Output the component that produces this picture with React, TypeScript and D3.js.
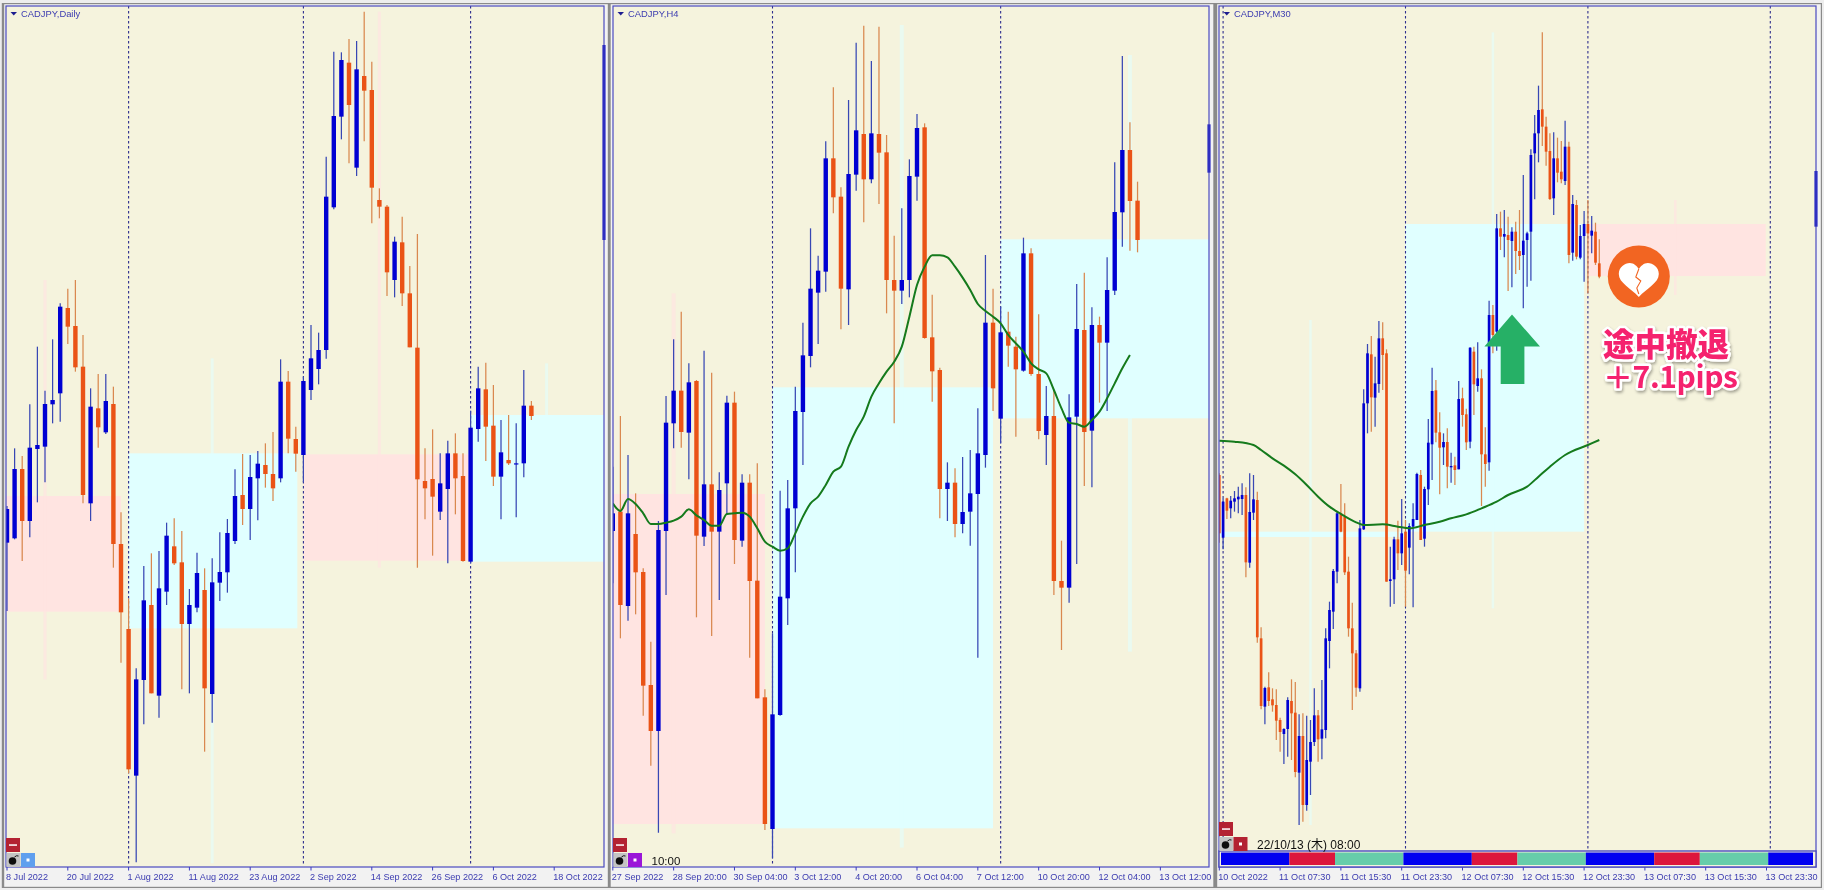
import React from 'react';
import * as d3 from 'd3';

// All prices are in points above a common base price (no price axis is shown in the picture).
const dailyLabels = ['8 Jul 2022','20 Jul 2022','1 Aug 2022','11 Aug 2022','23 Aug 2022','2 Sep 2022','14 Sep 2022','26 Sep 2022','6 Oct 2022','18 Oct 2022'];
const dailyOpen = [1372,1385,1593,1437,1653,1660,1787,1820,2076,2022,1900,1490,1775,1703,1788,1368,1113,673,960,1185,913,1225,1361,1313,1128,1177,1230,918,1252,1283,1377,1515,1473,1565,1605,1578,1565,1855,1683,1635,1830,1893,1950,2378,2650,2812,2497,2772,2730,2400,2380,2160,2273,2120,1957,1557,1563,1465,1533,1640,1572,1315,1713,1832,1723,1570,1620,1607,1610,1783];
const dailyClose = [1473,1593,1437,1657,1665,1788,1800,2080,2020,1898,1515,1780,1718,1797,1368,1163,692,962,1199,920,1235,1393,1310,1128,1185,1281,935,1253,1284,1401,1512,1473,1569,1609,1578,1535,1855,1684,1639,1857,1925,1950,2410,2652,2820,2685,2792,2728,2437,2380,2183,2275,2120,1958,1562,1535,1510,1550,1640,1565,1317,1717,1835,1720,1570,1643,1610,1610,1783,1752];
const dailyHigh = [1482,1655,1632,1787,1960,1828,1982,2090,2134,2160,1995,1835,1878,1878,1840,1463,1205,995,1302,1340,1347,1432,1445,1407,1233,1342,1295,1325,1403,1443,1592,1638,1635,1647,1670,1704,1922,1887,1720,1870,2025,2002,2530,2845,2843,2883,2877,2965,2815,2435,2385,2290,2350,2202,2298,1655,1712,1640,1678,1700,1640,1768,1900,1912,1845,1740,1755,1730,1890,1797];
const dailyLow = [1167,1382,1317,1388,1493,1553,1730,1735,1968,1885,1490,1437,1657,1698,1297,1012,680,413,827,920,847,1185,1305,932,920,1163,745,832,1197,1222,1368,1425,1380,1439,1537,1497,1553,1640,1585,1553,1800,1847,1924,2372,2582,2510,2472,2576,2330,2345,2112,2108,2082,1958,1297,1442,1333,1440,1310,1457,1315,1310,1675,1617,1542,1442,1605,1448,1568,1740];

const h4Labels = ['27 Sep 2022','28 Sep 20:00','30 Sep 04:00','3 Oct 12:00','4 Oct 20:00','6 Oct 04:00','7 Oct 12:00','10 Oct 20:00','12 Oct 04:00','13 Oct 12:00'];
const h4Open = [1407,1465,1182,1398,1284,945,807,1407,1730,1828,1702,1857,1390,1547,1405,1550,1792,1378,1552,1258,908,513,855,1205,1475,1764,1932,2122,2185,2525,2410,2132,2476,2598,2462,2598,2543,2160,2128,2160,2470,2618,1988,1890,1533,1552,1428,1465,1518,1635,2032,1744,2005,1960,1888,2240,1878,1695,1752,1257,1237,1750,2010,1708,2025,1972,2128,2363,2550,2398];
const h4Close = [1460,1185,1460,1283,943,807,1410,1732,1828,1704,1853,1393,1547,1405,1530,1792,1380,1552,1257,905,528,857,1210,1475,1767,1934,2134,2188,2525,2408,2134,2478,2609,2462,2600,2542,2160,2128,2160,2472,2616,1986,1886,1533,1552,1428,1464,1520,1640,2032,1835,2003,1963,1892,2240,1878,1707,1752,1257,1237,1748,2013,1704,2025,1972,2130,2364,2550,2397,2280];
const h4High = [1600,1752,1635,1520,1295,1075,1437,1812,1982,2065,1910,1860,1948,1882,1583,1813,1825,1577,1577,1610,932,1100,1528,1560,1840,2032,2315,2233,2576,2738,2438,2700,2872,2923,2817,2920,2595,2293,2375,2522,2658,2630,2116,1897,1613,1595,1629,1650,1775,2235,2134,2080,2065,1990,2287,2255,2057,1842,1830,1378,1817,2148,2182,2078,2050,2228,2513,2832,2633,2455];
const h4Low = [1250,1085,1138,1157,853,703,502,1215,1655,1657,1562,1148,1362,1092,1200,1458,1308,1360,1027,905,510,425,853,1125,1283,1605,1898,1968,2125,2360,2012,2025,2428,2333,2450,2388,2060,1730,2088,2108,2398,1984,1795,1445,1437,1388,1400,1363,1027,1597,1767,1670,1900,1690,1885,1873,1682,1605,1215,1050,1192,1308,1542,1538,1792,1767,2115,2260,2248,2243];
const h4MaValue = [1490,1467,1503,1488,1460,1428,1428,1432,1438,1450,1472,1454,1440,1423,1423,1458,1460,1462,1450,1415,1375,1360,1348,1355,1400,1450,1490,1510,1545,1585,1600,1660,1710,1750,1810,1850,1885,1915,1960,2050,2145,2200,2234,2234,2228,2200,2167,2130,2088,2067,2050,2030,1995,1970,1945,1910,1892,1880,1830,1775,1732,1728,1720,1740,1765,1805,1850,1895,1935];

const m30Labels = ['10 Oct 2022','11 Oct 07:30','11 Oct 15:30','11 Oct 23:30','12 Oct 07:30','12 Oct 15:30','12 Oct 23:30','13 Oct 07:30','13 Oct 15:30','13 Oct 23:30'];
const m30Open = [1575,1387,1505,1475,1495,1502,1503,1515,1312,1462,1500,1085,880,938,902,885,840,798,813,897,862,682,792,585,715,774,854,784,810,1077,1165,1285,1460,1450,1285,1115,1040,935,1412,1790,1937,1807,1848,1985,1940,1257,1262,1382,1340,1405,1357,1420,1440,1575,1384,1532,1667,1829,1703,1658,1674,1598,1604,1592,1805,1757,1675,1945,1842,1865,1637,1613,2055,2005,2315,2290,2295,2277,2305,2247,2235,2280,2305,2540,2600,2672,2620,2547,2405,2525,2485,2457,2560,2242,2385,2227,2292,2328,2293,2305,2210];
const m30Close = [1400,1495,1468,1498,1505,1510,1515,1313,1464,1502,1088,882,936,897,884,838,804,813,900,860,684,792,585,720,774,854,782,812,1085,1170,1287,1460,1405,1283,1115,1040,937,1415,1790,1940,1808,1850,1985,1935,1255,1262,1382,1340,1400,1288,1422,1443,1578,1380,1533,1672,1827,1702,1657,1674,1600,1602,1590,1803,1755,1673,1957,1847,1865,1637,1608,2055,1995,2315,2290,2298,2280,2305,2247,2232,2278,2300,2535,2600,2670,2620,2545,2403,2525,2482,2462,2560,2235,2388,2230,2292,2328,2300,2308,2212,2170];
const m30High = [1580,1505,1507,1512,1527,1540,1550,1538,1580,1575,1525,1118,940,983,935,932,847,815,908,962,954,857,860,853,840,935,870,960,1115,1195,1293,1465,1548,1490,1330,1192,1050,1440,1832,1968,1992,1930,2037,2033,1952,1360,1390,1438,1503,1440,1430,1490,1582,1590,1540,1743,1897,1860,1763,1700,1715,1642,1630,1857,1837,1774,1958,1960,1973,1892,1718,2098,2085,2358,2365,2370,2350,2318,2335,2370,2475,2305,2552,2655,2743,2903,2650,2600,2603,2587,2577,2638,2575,2415,2400,2325,2367,2400,2352,2332,2282];
const m30Low = [1372,1352,1443,1445,1465,1460,1455,1268,1297,1440,1072,872,827,882,865,780,745,708,730,720,668,525,535,568,615,762,715,722,785,995,1113,1250,1403,1275,1090,870,910,925,1410,1700,1705,1720,1822,1830,1255,1180,1188,1290,1305,1180,1277,1178,1440,1380,1360,1485,1560,1673,1517,1605,1535,1552,1545,1592,1720,1650,1655,1755,1825,1482,1540,1588,1940,1948,2250,2228,2127,2138,2178,2190,2075,2140,2158,2402,2513,2562,2503,2400,2355,2453,2450,2445,2210,2218,2222,2222,2155,2120,2240,2205,2165];
const m30MaBar = [0,4,9,11,14,17,20,23,26,29,32,36,38,43,47,50,54,58,61,65,69,73,76,81,84,87,91,97,100];
const m30MaValue = [1678,1675,1665,1650,1625,1603,1577,1545,1510,1480,1458,1433,1425,1427,1420,1415,1425,1435,1445,1457,1475,1495,1515,1540,1570,1600,1635,1665,1680];

const sessionBars = [18, 12, 18];
const sessionColors = ['#0000f0', '#dc143c', '#66cdaa'];

// zones: [first bar, last bar, upper price, lower price]
const dailyPink = [[-2,15,1512,1165],[39,61,1637,1318]];
const dailyCyan = [[16,38.2,1640,1115],[61,80,1755,1315]];
const h4Pink = [[-2,20,1518,528]];
const h4Cyan = [[21,50,1838,515],[51,80,2282,1745]];
const m30Pink = [[97,143.8,2328,2172]];
const m30Cyan = [[49,96,2328,1405],[-2,49,1405,1389]];
// day-range slivers: [bar, upper price, lower price]
const dailyPaleCyan = [[27,1925,410],[71,1910,1755]];
const dailyPalePink = [[5,2160,962],[49,2965,1297]];
const h4PaleCyan = [[38,2925,457],[68,2835,1045]];
const h4PalePink = [[8,2120,500]];
const m30PaleCyan = [[24,2040,525],[72,2903,1175]];
const m30PalePink = [[120,2400,2115]];

const BG = '#f5f3dd', PINK = '#ffe4e1', CYAN = '#e0ffff';
const UP = '#0303d2', DOWN = '#ea5216', UPW = '#3747b4', DOWNW = '#d9884f', INK = '#3b3bb0', GREEN = '#137a1c';
const FONT = '"Liberation Sans", Arial, sans-serif';

const yScale = d3.scaleLinear().domain([0, 3000]).range([1000, 0]);

type Cfg = {
  title: string; left: number; right: number; x0: number; step: number; bottom: number;
  open: number[]; close: number[]; high: number[]; low: number[];
  pink: number[][]; cyan: number[][]; palePink: number[][]; paleCyan: number[][]; paleW: number;
  vbars: number[]; tickEvery: number; labels: string[]; bodyW: number;
  ma?: [number, number][]; mark: [number, number];
};

function Panel({ c, id }: { c: Cfg; id: string }) {
  const x = d3.scaleLinear().domain([0, 1]).range([c.x0, c.x0 + c.step]);
  const AXIS = 867;
  const line = d3.line<[number, number]>().x(d => x(d[0])).y(d => yScale(d[1])).curve(d3.curveMonotoneX);
  return (
    <g>
      <clipPath id={id}><rect x={c.left} y={6} width={c.right - c.left} height={AXIS - 6} /></clipPath>
      <rect x={c.left} y={6} width={c.right - c.left} height={AXIS - 6} fill={BG} />
      <g clipPath={`url(#${id})`}>
        {c.pink.map((z, i) => <rect key={i} x={x(z[0])} width={x(z[1]) - x(z[0])} y={yScale(z[2])} height={yScale(z[3]) - yScale(z[2])} fill={PINK} />)}
        {c.cyan.map((z, i) => <rect key={i} x={x(z[0])} width={x(z[1]) - x(z[0])} y={yScale(z[2])} height={yScale(z[3]) - yScale(z[2])} fill={CYAN} />)}
        {c.paleCyan.map((z, i) => <rect key={i} x={x(z[0]) - c.paleW / 2} width={c.paleW} y={yScale(z[1])} height={yScale(z[2]) - yScale(z[1])} fill={CYAN} opacity={0.55} />)}
        {c.palePink.map((z, i) => <rect key={i} x={x(z[0]) - c.paleW / 2} width={c.paleW} y={yScale(z[1])} height={yScale(z[2]) - yScale(z[1])} fill={PINK} opacity={0.7} />)}
        {c.vbars.map(b => <line key={b} x1={x(b)} x2={x(b)} y1={6} y2={c.bottom} stroke="#2d2d8e" strokeWidth={1.1} strokeDasharray="2.5 2.5" />)}
        {c.open.map((o, i) => {
          const up = c.close[i] >= o;
          const top = yScale(Math.max(o, c.close[i]));
          const bot = yScale(Math.min(o, c.close[i]));
          return (
            <g key={i}>
              <line x1={x(i)} x2={x(i)} y1={yScale(c.high[i])} y2={yScale(c.low[i])} stroke={up ? UPW : DOWNW} strokeWidth={1.25} />
              <rect x={x(i) - c.bodyW / 2} width={c.bodyW} y={top} height={Math.max(bot - top, 1.2)} fill={up ? UP : DOWN} />
            </g>
          );
        })}
        {c.ma && <path d={line(c.ma) || ''} fill="none" stroke={GREEN} strokeWidth={2} />}
      </g>
      <rect x={c.right - 1.5} y={yScale(c.mark[0])} width={3} height={yScale(c.mark[1]) - yScale(c.mark[0])} fill="#0505c0" />
      <rect x={c.left} y={6} width={c.right - c.left} height={AXIS - 6} fill="none" stroke="#4a4ac0" strokeWidth={1.2} />
      {c.labels.map((t, i) => {
        const px = x(i * c.tickEvery);
        return (
          <g key={t}>
            <line x1={px} x2={px} y1={AXIS} y2={AXIS + 3.5} stroke="#3a3ac0" strokeWidth={1} />
            <text x={px - 1} y={AXIS + 12.5} fontSize={9.1} fontFamily={FONT} fill={INK}>{t}</text>
          </g>
        );
      })}
      <path d={`M${c.left + 4.5},12 h6.5 l-3.25,3.5 z`} fill="#1f1f90" />
      <text x={c.left + 15} y={17} fontSize={9.4} fontFamily={FONT} fill={INK}>{c.title}</text>
    </g>
  );
}

function Bomb({ x, y }: { x: number; y: number }) {
  return (
    <g>
      <rect x={x} y={y} width={14} height={14} fill="#c4c4c4" />
      <circle cx={x + 6} cy={y + 8} r={3.8} fill="#111" />
      <path d={`M${x + 8},${y + 4} q2,-2 4,-1`} stroke="#111" fill="none" strokeWidth={1} />
    </g>
  );
}

function Btn({ x, y, color, dot }: { x: number; y: number; color: string; dot?: boolean }) {
  return (
    <g>
      <rect x={x} y={y} width={14} height={14} fill={color} />
      {dot
        ? <rect x={x + 5.5} y={y + 5.5} width={3} height={3} fill="#fff" />
        : <rect x={x + 3} y={y + 6.3} width={8} height={1.5} fill="#fff" />}
    </g>
  );
}

export default function App() {
  const daily: Cfg = {
    title: 'CADJPY,Daily', left: 6, right: 604, x0: 7, step: 7.6, bottom: 866,
    open: dailyOpen, close: dailyClose, high: dailyHigh, low: dailyLow,
    pink: dailyPink, cyan: dailyCyan, palePink: dailyPalePink, paleCyan: dailyPaleCyan, paleW: 3,
    vbars: [16, 39, 61], tickEvery: 8, labels: dailyLabels, bodyW: 4.4, mark: [2865, 2280],
  };
  const h4: Cfg = {
    title: 'CADJPY,H4', left: 613, right: 1209, x0: 612.8, step: 7.605, bottom: 866,
    open: h4Open, close: h4Close, high: h4High, low: h4Low,
    pink: h4Pink, cyan: h4Cyan, palePink: h4PalePink, paleCyan: h4PaleCyan, paleW: 4,
    vbars: [21, 51], tickEvery: 8, labels: h4Labels, bodyW: 4.4, mark: [2627, 2482],
    ma: h4MaValue.map((v, i) => [i, v] as [number, number]),
  };
  const m30: Cfg = {
    title: 'CADJPY,M30', left: 1219, right: 1816, x0: 1219.3, step: 3.8, bottom: 850,
    open: m30Open, close: m30Close, high: m30High, low: m30Low,
    pink: m30Pink, cyan: m30Cyan, palePink: m30PalePink, paleCyan: m30PaleCyan, paleW: 2.5,
    vbars: [1, 49, 97, 145], tickEvery: 16, labels: m30Labels, bodyW: 2.7, mark: [2487, 2320],
    ma: m30MaBar.map((b, i) => [b, m30MaValue[i]] as [number, number]),
  };

  const xm = d3.scaleLinear().domain([0, 1]).range([m30.x0, m30.x0 + m30.step]);
  const segs: { a: number; b: number; k: number }[] = [];
  let bar = 0.45;
  for (let n = 0; bar < 156; n++) {
    const k = n % sessionBars.length;
    segs.push({ a: bar, b: bar + sessionBars[k], k });
    bar += sessionBars[k];
  }
  const stripEnd = 1813;

  return (
    <svg width={1824} height={890} style={{ position: 'fixed', left: 0, top: 0, display: 'block', background: '#ededed' }}>
      <defs>
        <filter id="soft" x="0" y="0" width="100%" height="100%"><feGaussianBlur stdDeviation="0.3" /></filter>
        <filter id="halo" x="-10%" y="-20%" width="120%" height="150%">
          <feDropShadow dx="1" dy="2" stdDeviation="1.6" floodColor="#000" floodOpacity="0.35" />
        </filter>
      </defs>
      <g filter="url(#soft)">
        <rect x={3} y={3} width={606} height={885} fill="#f2f2f2" stroke="#8a8a8a" strokeWidth={2.4} />
        <rect x={609.5} y={3} width={605} height={885} fill="#f2f2f2" stroke="#8a8a8a" strokeWidth={2.4} />
        <rect x={1216} y={3} width={606} height={885} fill="#f2f2f2" stroke="#8a8a8a" strokeWidth={2.4} />

        <Panel c={daily} id="c1" />
        <Panel c={h4} id="c2" />
        <Panel c={m30} id="c3" />

        {/* session strip on the M30 panel */}
        <rect x={1219} y={851} width={597} height={16} fill={BG} stroke="#4a4ac0" strokeWidth={1.4} />
        {segs.map((s, i) => {
          const a = xm(s.a);
          const b = Math.min(xm(s.b), stripEnd);
          return b > a ? <rect key={i} x={a} y={852.5} width={b - a} height={12.5} fill={sessionColors[s.k]} /> : null;
        })}

        <Btn x={6} y={838} color="#b32433" />
        <Bomb x={6.5} y={853} />
        <Btn x={21} y={853} color="#5f9fee" dot />

        <Btn x={613} y={838} color="#b32433" />
        <Bomb x={613.5} y={853} />
        <Btn x={628} y={853} color="#9a12d8" dot />
        <text x={651.5} y={865} fontSize={11.5} fontFamily={FONT} fill="#111">10:00</text>

        <Btn x={1219} y={822} color="#b32433" />
        <Bomb x={1219.5} y={837} />
        <Btn x={1233.5} y={837} color="#b32433" dot />
        <text x={1257} y={849} fontSize={12} fontFamily={'"Liberation Sans", "Noto Sans CJK JP", sans-serif'} fill="#111">22/10/13 (木) 08:00</text>

        {/* entry arrow */}
        <path d="M1512,314.5 L1540,346.5 L1524.4,346.5 L1524.4,384 L1500.7,384 L1500.7,346.5 L1484.4,346.5 Z" fill="#27b066" />

        {/* stop badge */}
        <circle cx={1638.8} cy={276.5} r={31} fill="#f26522" />
        <g transform="translate(1638.8,280)">
          <path d="M0,17 C-8,8 -20,3 -20,-6 C-20,-13 -14,-17 -9,-17 C-5,-17 -2,-14 0,-11 C2,-14 5,-17 9,-17 C14,-17 20,-13 20,-6 C20,3 8,8 0,17Z" fill="#fff" />
          <path d="M0,-11 L-3,-3 L2,1 L-2,8 L0,14" fill="none" stroke="#f26522" strokeWidth={1.1} />
        </g>

        <g filter="url(#halo)" fontFamily={'"Noto Sans CJK JP", sans-serif'} fontWeight={900} fill="#f5206e" stroke="#fff" strokeWidth={5} strokeLinejoin="round" style={{ paintOrder: 'stroke' }}>
          <text x={1603} y={356} fontSize={31.5}>途中撤退</text>
          <text x={1603} y={388} fontSize={30} fontWeight={700} letterSpacing={-0.4}>＋7.1pips</text>
        </g>
      </g>
    </svg>
  );
}
